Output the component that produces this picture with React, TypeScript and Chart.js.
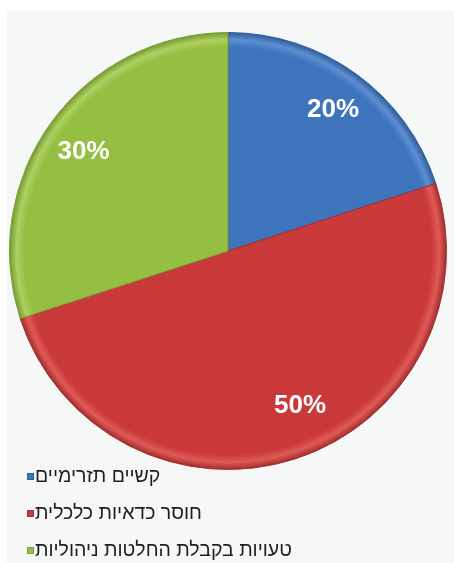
import React, { useEffect, useRef } from "react";
import { Chart, registerables } from "chart.js";

Chart.register(...registerables);

const categories = ["קשיים תזרימיים", "חוסר כדאיות כלכלית", "טעויות בקבלת החלטות ניהוליות"];
const shares = [20, 50, 30];
const valueLabels = ["20%", "50%", "30%"];

const baseColors = ["#3d74bc", "#c9393a", "#94bf43"];
const rimColors = ["#5d8fd2", "#e05a55", "#aed060"];
const edgeColors = ["#2c5894", "#9a2a2a", "#6f9630"];
const borderColors = ["#2f5d9c", "#a52f2f", "#79a034"];

// label placement tweaks (angle shift in degrees, radius fraction)
const labelAngleShift = [0.6, -7, -1.4];
const labelRadiusFrac = [0.806, 0.78, 0.803];

const FONT = "'Liberation Sans', Arial, sans-serif";

const labelPlugin = {
  id: "sliceLabels",
  afterDatasetsDraw(chart: any) {
    const ctx = chart.ctx;
    const meta = chart.getDatasetMeta(0);
    ctx.save();
    ctx.fillStyle = "#ffffff";
    ctx.font = `bold 26px ${FONT}`;
    ctx.textAlign = "center";
    ctx.textBaseline = "middle";
    meta.data.forEach((arc: any, i: number) => {
      const p = arc.getProps(["x", "y", "startAngle", "endAngle", "outerRadius"], true);
      const mid = (p.startAngle + p.endAngle) / 2 + (labelAngleShift[i] * Math.PI) / 180;
      const r = p.outerRadius * labelRadiusFrac[i];
      ctx.fillText(valueLabels[i], p.x + Math.cos(mid) * r, p.y + Math.sin(mid) * r);
    });
    ctx.restore();
  },
};

const legendPlugin = {
  id: "stackedLegend",
  afterDraw(chart: any) {
    const ctx = chart.ctx;
    const top = 476;
    const step = 37;
    ctx.save();
    ctx.font = `19.5px ${FONT}`;
    ctx.textBaseline = "middle";
    ctx.textAlign = "left";
    categories.forEach((label, i) => {
      const y = top + i * step;
      ctx.fillStyle = baseColors[i];
      ctx.fillRect(27, y - 3, 7, 7);
      ctx.strokeStyle = borderColors[i];
      ctx.lineWidth = 1;
      ctx.strokeRect(27.5, y - 2.5, 6, 6);
      ctx.fillStyle = "#1e1e1e";
      ctx.fillText(label, 35, y + 1);
    });
    ctx.restore();
  },
};

function sliceFill(i: number) {
  return (c: any) => {
    const chart = c.chart;
    const area = chart.chartArea;
    if (!area) return baseColors[i];
    const cx = (area.left + area.right) / 2;
    const cy = (area.top + area.bottom) / 2;
    const r = Math.min(area.right - area.left, area.bottom - area.top) / 2;
    const g = chart.ctx.createRadialGradient(cx, cy, 0, cx, cy, r);
    g.addColorStop(0, baseColors[i]);
    g.addColorStop(0.93, baseColors[i]);
    g.addColorStop(0.965, rimColors[i]);
    g.addColorStop(1, edgeColors[i]);
    return g;
  };
}

export default function App() {
  const ref = useRef<HTMLCanvasElement | null>(null);
  useEffect(() => {
    document.body.style.margin = "0";
    if (!ref.current) return;
    const chart = new Chart(ref.current, {
      type: "pie",
      data: {
        labels: categories,
        datasets: [
          {
            data: shares,
            backgroundColor: (c: any) => sliceFill(c.dataIndex)(c),
            borderColor: borderColors,
            borderWidth: 1,
          },
        ],
      },
      options: {
        animation: false,
        responsive: false,
        maintainAspectRatio: false,
        layout: { padding: { left: 9, right: 7, top: 32, bottom: 93 } },
        plugins: { legend: { display: false }, tooltip: { enabled: false } },
      },
      plugins: [labelPlugin, legendPlugin],
    });
    return () => chart.destroy();
  }, []);
  return (
    <div style={{ position: "relative", width: 454, height: 563, background: "#ffffff", overflow: "hidden" }}>
      <div style={{ position: "absolute", left: 7, top: 11, right: 0, bottom: 0, background: "#f6f7f7" }} />
      <canvas ref={ref} width={454} height={563} style={{ position: "absolute", left: 0, top: 0, width: 454, height: 563 }} />
    </div>
  );
}
